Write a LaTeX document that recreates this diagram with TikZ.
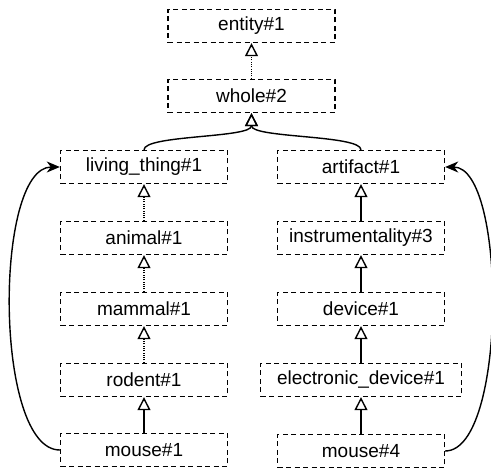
\documentclass[tikz,border=0pt]{standalone}
\usepackage{fontspec}
\setmainfont{Liberation Sans}
\usetikzlibrary{arrows.meta}
\begin{document}
\begin{tikzpicture}[x=1pt,y=-1pt,
  box/.style={draw, line width=1.4pt, dash pattern=on 5pt off 3.5pt, minimum width=167pt, minimum height=33pt, inner sep=0pt, font=\fontsize{19}{22}\selectfont},
  gen/.style={line width=1.4pt, -{Triangle[open,length=13pt,width=13pt]}},
  dotgen/.style={gen, dash pattern=on 1pt off 1.3pt},
  link/.style={line width=1.4pt, -{Stealth[length=13pt,width=11pt,inset=4pt]}}]
\useasboundingbox (0,0) rectangle (491,470);
\node[box] (entity) at (251.5,26) {entity\#1};
\node[box] (whole) at (251.5,96) {whole\#2};
\node[box] (lt) at (144,167) {living\_thing\#1};
\node[box] (animal) at (144,238) {animal\#1};
\node[box] (mammal) at (144,309) {mammal\#1};
\node[box] (rodent) at (144,380) {rodent\#1};
\node[box] (m1) at (144,450) {mouse\#1};
\node[box] (art) at (361,167) {artifact\#1};
\node[box] (instr) at (361,238) {instrumentality\#3};
\node[box] (dev) at (361,309) {device\#1};
\node[box, minimum width=201pt] (edev) at (361,380) {electronic\_device\#1};
\node[box] (m4) at (361,451) {mouse\#4};
\draw[dotgen] (whole) -- (entity);
\draw[gen] (lt.north) .. controls +(0,-15) and +(0,25) .. (whole.south);
\draw[gen] (art.north) .. controls +(0,-15) and +(0,25) .. (whole.south);
\draw[dotgen] (animal) -- (lt);
\draw[dotgen] (mammal) -- (animal);
\draw[dotgen] (rodent) -- (mammal);
\draw[gen] (m1) -- (rodent);
\draw[gen] (instr) -- (art);
\draw[gen] (dev) -- (instr);
\draw[gen] (edev) -- (dev);
\draw[gen] (m4) -- (edev);
\draw[link] (m1.west) .. controls +(-66,0) and +(-66,0) .. (lt.west);
\draw[link] (m4.east) .. controls +(62,0) and +(62,0) .. (art.east);
\end{tikzpicture}
\end{document}
